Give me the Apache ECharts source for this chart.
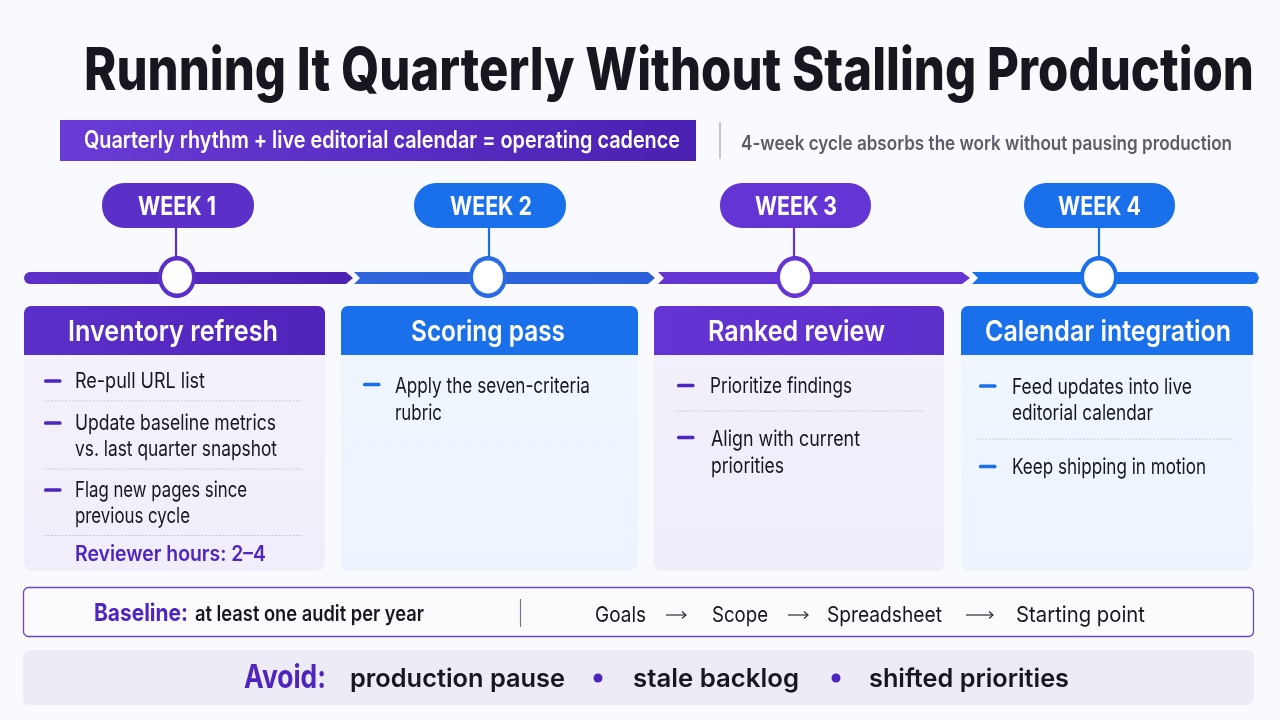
<!DOCTYPE html>
<html><head><meta charset="utf-8">
<style>html,body{margin:0;padding:0;background:#f9fafd}#c{width:1280px;height:720px}</style>
<script src="https://cdn.jsdelivr.net/npm/echarts@6/dist/echarts.min.js"></script>
</head><body><div id="c"></div>
<script>
// ---- content ----
const chartTitle = 'Running It Quarterly Without Stalling Production';
const bannerText = 'Quarterly rhythm + live editorial calendar = operating cadence';
const subtitleText = '4-week cycle absorbs the work without pausing production';
const weekLabels = ['WEEK 1', 'WEEK 2', 'WEEK 3', 'WEEK 4'];
const cardTitles = ['Inventory refresh', 'Scoring pass', 'Ranked review', 'Calendar integration'];
const card1Lines = ['Re-pull URL list', 'Update baseline metrics', 'vs. last quarter snapshot', 'Flag new pages since', 'previous cycle'];
const card1Note = 'Reviewer hours: 2–4';
const card2Lines = ['Apply the seven-criteria', 'rubric'];
const card3Lines = ['Prioritize findings', 'Align with current', 'priorities'];
const card4Lines = ['Feed updates into live', 'editorial calendar', 'Keep shipping in motion'];
const baselineLabel = 'Baseline:';
const baselineText = 'at least one audit per year';
const flowSteps = ['Goals', 'Scope', 'Spreadsheet', 'Starting point'];
const avoidLabel = 'Avoid:';
const avoidItems = ['production pause', 'stale backlog', 'shifted priorities'];

// ---- layout & style ----
const FONT = 'Inter';
const PURPLE = '#5b30c9', PURPLE2 = '#6534d4', BLUE = '#1a70ea', DEEP = '#4f25c0', INK = '#17171f';
const measure = document.createElement('canvas').getContext('2d');
const els = [];
function grad(a, b, vertical) {
  return new echarts.graphic.LinearGradient(0, 0, vertical ? 0 : 1, vertical ? 1 : 0, [{offset: 0, color: a}, {offset: 1, color: b}]);
}
function T(text, left, right, cy, size, weight, color) {
  measure.font = weight + ' ' + size + 'px ' + FONT;
  const w = measure.measureText(text).width;
  els.push({type: 'text', x: left, y: cy, scaleX: (right - left) / w, z: 10,
    style: {text, x: 0, y: 0, fill: color, font: weight + ' ' + size + 'px ' + FONT, textAlign: 'left', textVerticalAlign: 'middle'}});
}
function R(x, y, w, h, r, fill, extra) {
  els.push({type: 'rect', shape: {x, y, width: w, height: h, r}, style: Object.assign({fill}, extra || {}), z: 2});
}
function L(x1, y1, x2, y2, color, width, dash) {
  els.push({type: 'line', shape: {x1, y1, x2, y2}, style: {stroke: color, lineWidth: width, lineDash: dash || null}, z: 3});
}
function P(points, fill) { els.push({type: 'polygon', shape: {points}, style: {fill}, z: 3}); }

// title + banner
T(chartTitle, 84, 1254, 72, 59, 800, '#17171f');
R(60, 120, 636, 41, 0, grad('#6a3bd6', '#4a20b2'));
T(bannerText, 84, 680, 141, 24, 600, '#ffffff');
L(720, 122, 720, 159, '#a3a3ad', 1.2);
T(subtitleText, 741, 1232, 143.5, 20, 600, '#5d5d69');

// timeline
const segs = [[24, 346, 353, true, grad('#5f31ca', '#4b21b3')], [354, 648, 655, false, grad('#2f66dc', '#2c60da')],
              [658, 962, 970, false, PURPLE2], [972, 1254, 1259, false, BLUE]];
segs.forEach(([a, b, tip, first, c], i) => {
  if (i === 3) {
    P([[a, 272], [b, 272], [b + 3, 273], [tip, 278], [b + 3, 283], [b, 284], [a, 284], [a + 6, 278]], c);
  } else if (first) {
    R(a, 272, 20, 12, 6, c);
    P([[a + 6, 272], [b, 272], [tip, 278], [b, 284], [a + 6, 284]], c);
  } else {
    P([[a, 272], [b, 272], [tip, 278], [b, 284], [a, 284], [a + 6, 278]], c);
  }
});
const pills = [[102, 152, PURPLE], [414, 152, BLUE], [720, 151, PURPLE2], [1024, 151, BLUE]];
const pillText = [[138, 216], [450, 532], [755, 837], [1058, 1141]];
const stems = [176, 489, 794, 1099];
const nodes = [177, 488, 795, 1099];
const nodeColors = [PURPLE, '#2a6be6', PURPLE2, BLUE];
weekLabels.forEach((w, i) => {
  R(pills[i][0], 183, pills[i][1], 45, 22, pills[i][2]);
  T(w, pillText[i][0], pillText[i][1], 207, 26, 700, '#ffffff');
  L(stems[i], 228, stems[i], 258, pills[i][2], 2.2);
  els.push({type: 'ellipse', shape: {cx: nodes[i], cy: 277, rx: 19, ry: 21}, style: {fill: nodeColors[i]}, z: 4});
  els.push({type: 'ellipse', shape: {cx: nodes[i], cy: 277, rx: 15, ry: 16.5}, style: {fill: '#ffffff'}, z: 5});
});

// cards
const cards = [[24, 301, PURPLE, '#5023bb', '#f5f2fc', '#f1edfa'], [341, 297, BLUE, BLUE, '#f0f6fe', '#edf4fd'],
               [654, 290, '#6534d4', '#5d2fcb', '#f3f0fb', '#f0ecfa'], [961, 292, BLUE, BLUE, '#f0f6fe', '#edf4fd']];
const titleSpans = [[68, 278], [411, 565], [708, 885], [985, 1231]];
cards.forEach(([x, w, a, b, c, d], i) => {
  R(x, 320, w, 251, 8, grad(c, d, true));
  R(x, 306, w, 49, [7, 7, 0, 0], grad(a, b));
  T(cardTitles[i], titleSpans[i][0], titleSpans[i][1], 332.5, 29, 600, '#ffffff');
});
const DASHLINE = '#c9c9d6';
function dash(x, y, c) { R(x, y - 1.8, 17.5, 3.6, 1.5, c); }

// card 1
[381, 423, 490].forEach(y => dash(44, y, DEEP));
[401, 469, 535.5].forEach(y => L(44, y, 303, y, DASHLINE, 1, [2, 1.5]));
const BODY = 21.5;
T(card1Lines[0], 75, 205, 381.5, BODY, 400, INK);
T(card1Lines[1], 75, 276, 423.5, BODY, 400, INK);
T(card1Lines[2], 75, 277, 449.5, BODY, 400, INK);
T(card1Lines[3], 75, 247, 490.5, BODY, 400, INK);
T(card1Lines[4], 75, 190, 516.5, BODY, 400, INK);
T(card1Note, 75, 266, 554.5, BODY, 600, DEEP);
// card 2
dash(363, 384.5, BLUE);
T(card2Lines[0], 395, 590, 386.5, BODY, 400, INK);
T(card2Lines[1], 395, 442, 413.5, BODY, 400, INK);
// card 3
dash(677, 385.5, DEEP); dash(677, 437.5, DEEP);
L(676, 411, 923, 411, DASHLINE, 1, [2, 1.5]);
T(card3Lines[0], 710, 852, 386.5, BODY, 400, INK);
T(card3Lines[1], 711, 860, 439.5, BODY, 400, INK);
T(card3Lines[2], 711, 784, 466.5, BODY, 400, INK);
// card 4
dash(979, 386, BLUE); dash(979, 466.5, BLUE);
L(978, 439, 1232, 439, DASHLINE, 1, [2, 1.5]);
T(card4Lines[0], 1012, 1192, 387.5, BODY, 400, INK);
T(card4Lines[1], 1012, 1153, 413.5, BODY, 400, INK);
T(card4Lines[2], 1012, 1206, 467.5, BODY, 400, INK);

// baseline strip
R(23.5, 587.5, 1230, 49, 5, '#fbfbfe', {stroke: '#6a45c8', lineWidth: 1.3});
T(baselineLabel, 94, 188, 613.5, 24, 700, DEEP);
T(baselineText, 195, 424, 614.5, 21.5, 600, INK);
L(520.5, 599, 520.5, 627, '#777782', 1.2);
const flowSpans = [[595, 646], [712, 768], [827, 942], [1016, 1145]];
flowSteps.forEach((s, i) => T(s, flowSpans[i][0], flowSpans[i][1], 615.5, 22, 400, INK));
[[666, 686], [788, 808], [966, 993]].forEach(([a, b]) => {
  L(a, 615, b, 615, '#2b2b33', 1.2);
  els.push({type: 'polyline', shape: {points: [[b - 4, 611.5], [b, 615], [b - 4, 618.5]]}, style: {stroke: '#2b2b33', fill: null, lineWidth: 1.2}, z: 3});
});

// avoid strip
R(23, 650, 1231, 55, 7, '#ecebf6');
T(avoidLabel, 244, 326, 678, 32, 700, DEEP);
const avoidSpans = [[350, 565], [633, 799], [869, 1069]];
avoidItems.forEach((s, i) => T(s, avoidSpans[i][0], avoidSpans[i][1], 679, 25.5, 600, INK));
[598, 836].forEach(cx => els.push({type: 'circle', shape: {cx, cy: 678, r: 4.5}, style: {fill: DEEP}, z: 4}));

const chart = echarts.init(document.getElementById('c'), null, {width: 1280, height: 720});
chart.setOption({backgroundColor: '#f9fafd', animation: false, graphic: {elements: els}});
</script></body></html>
